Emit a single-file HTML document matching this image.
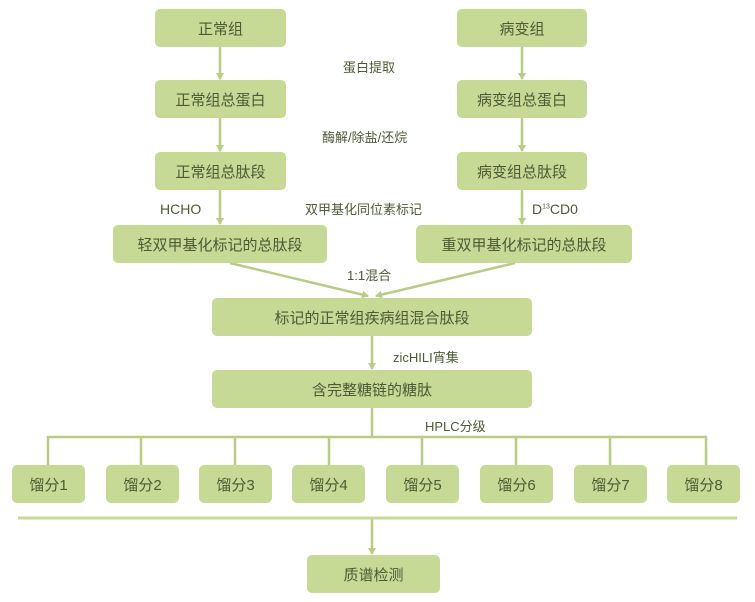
<!DOCTYPE html>
<html><head><meta charset="utf-8"><style>
body{margin:0;width:755px;height:602px;background:#fff;overflow:hidden;font-family:"Liberation Sans","Noto Sans CJK SC",sans-serif}
.b{position:absolute;background:#c6da96;border-radius:5px;color:#4d5a35;font-size:15px;display:flex;align-items:center;justify-content:center;height:38px}
.t{position:absolute;color:#4d5a35;font-size:13px;white-space:nowrap}
svg{position:absolute;left:0;top:0}
</style></head><body>
<svg width="755" height="602">
<defs><marker id="a" markerWidth="8" markerHeight="8" refX="6" refY="4" orient="auto" markerUnits="userSpaceOnUse"><path d="M0,0L7,4L0,8z" fill="#b7cd86"/></marker></defs>
<g stroke="#b7cd86" stroke-width="2.5" fill="none">
<line x1="220" y1="47" x2="220" y2="79" marker-end="url(#a)"/>
<line x1="220" y1="118" x2="220" y2="151" marker-end="url(#a)"/>
<line x1="220" y1="190" x2="220" y2="224" marker-end="url(#a)"/>
<line x1="522" y1="47" x2="522" y2="79" marker-end="url(#a)"/>
<line x1="522" y1="118" x2="522" y2="151" marker-end="url(#a)"/>
<line x1="522" y1="190" x2="522" y2="224" marker-end="url(#a)"/>
<line x1="230" y1="263" x2="368" y2="296" marker-end="url(#a)"/>
<line x1="515" y1="263" x2="376" y2="296" marker-end="url(#a)"/>
<line x1="372" y1="336" x2="372" y2="369" marker-end="url(#a)"/>
<line x1="372" y1="408" x2="372" y2="437"/>
<polyline points="48,465 48,437 706,437 706,465"/>
<line x1="141" y1="437" x2="141" y2="465"/>
<line x1="235" y1="437" x2="235" y2="465"/>
<line x1="329" y1="437" x2="329" y2="465"/>
<line x1="422" y1="437" x2="422" y2="465"/>
<line x1="516" y1="437" x2="516" y2="465"/>
<line x1="610" y1="437" x2="610" y2="465"/>
<line x1="372" y1="519" x2="372" y2="554" marker-end="url(#a)"/>
</g>
<line x1="18" y1="518" x2="737" y2="518" stroke="#c6da96" stroke-width="3"/>
</svg>
<div class="b" style="left:155px;top:9px;width:131px">正常组</div>
<div class="b" style="left:457px;top:9px;width:130px">病变组</div>
<div class="b" style="left:155px;top:80px;width:131px">正常组总蛋白</div>
<div class="b" style="left:457px;top:80px;width:130px">病变组总蛋白</div>
<div class="b" style="left:155px;top:152px;width:131px">正常组总肽段</div>
<div class="b" style="left:457px;top:152px;width:130px">病变组总肽段</div>
<div class="b" style="left:113px;top:225px;width:214px">轻双甲基化标记的总肽段</div>
<div class="b" style="left:416px;top:225px;width:216px">重双甲基化标记的总肽段</div>
<div class="b" style="left:212px;top:298px;width:320px">标记的正常组疾病组混合肽段</div>
<div class="b" style="left:212px;top:370px;width:320px">含完整糖链的糖肽</div>
<div class="b" style="left:12px;top:465px;width:73px">馏分1</div>
<div class="b" style="left:106px;top:465px;width:73px">馏分2</div>
<div class="b" style="left:199px;top:465px;width:73px">馏分3</div>
<div class="b" style="left:292px;top:465px;width:73px">馏分4</div>
<div class="b" style="left:386px;top:465px;width:73px">馏分5</div>
<div class="b" style="left:480px;top:465px;width:73px">馏分6</div>
<div class="b" style="left:574px;top:465px;width:73px">馏分7</div>
<div class="b" style="left:667px;top:465px;width:73px">馏分8</div>
<div class="b" style="left:307px;top:555px;width:133px">质谱检测</div>
<div class="t" style="left:343px;top:57px">蛋白提取</div>
<div class="t" style="left:322px;top:127px">酶解/除盐/还烷</div>
<div class="t" style="left:305px;top:199px">双甲基化同位素标记</div>
<div class="t" style="left:160px;top:201px;font-size:14px">HCHO</div>
<div class="t" style="left:532px;top:201px;font-size:14px">D<sup style="font-size:7px">13</sup>CD0</div>
<div class="t" style="left:347px;top:265px">1:1混合</div>
<div class="t" style="left:393px;top:347px">zicHILI宵集</div>
<div class="t" style="left:425px;top:416px">HPLC分级</div>
</body></html>
